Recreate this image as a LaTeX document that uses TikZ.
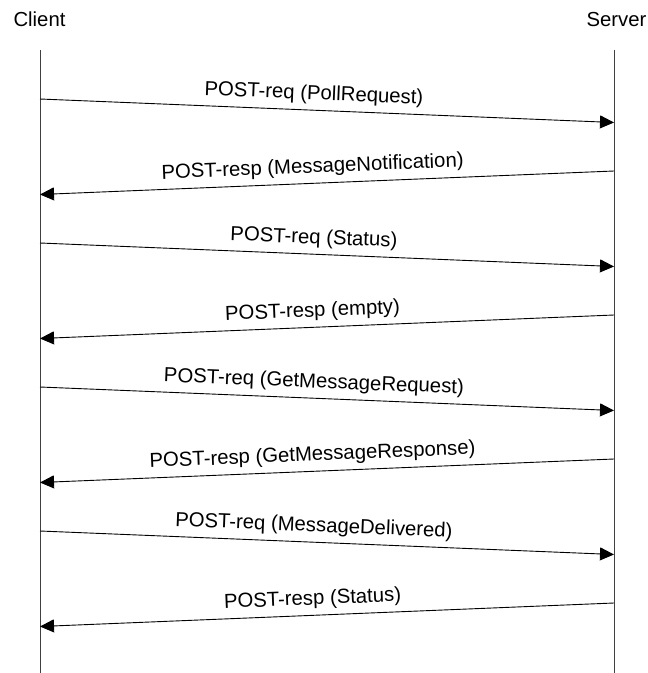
\documentclass[tikz,border=0pt]{standalone}
\usepackage{fontspec}
\setmainfont{Liberation Sans}
\usetikzlibrary{arrows.meta}
\begin{document}
\begin{tikzpicture}[x=1pt,y=-1pt,
  lbl/.style={font=\fontsize{20.3}{24}\selectfont, inner sep=0pt},
  life/.style={line width=0.9pt, draw=black!75},
  msg/.style={line width=0.9pt, -{Triangle[length=14pt,width=13pt]}},
  mlab/.style={lbl, sloped, anchor=base, yshift=10.5pt}]
\useasboundingbox (0,0) rectangle (648,673);
\node[lbl, anchor=base] (client) at (39.5,26.5) {Client};
\node[lbl, anchor=base] (server) at (616.5,26.5) {Server};
\coordinate (ctop) at (40,50);
\coordinate (cbot) at (40,673);
\coordinate (stop) at (614,50);
\coordinate (sbot) at (614,673);
\draw[life] (ctop) -- (cbot);
\draw[life] (stop) -- (sbot);
% message endpoints
\foreach \i in {1,...,8}{
  \pgfmathsetmacro{\ya}{99+72*(\i-1)}
  \pgfmathsetmacro{\yb}{\ya+23.5}
  \ifodd\i
    \coordinate (a\i) at (40,\ya);
    \coordinate (b\i) at (614,\yb);
  \else
    \coordinate (a\i) at (614,\ya);
    \coordinate (b\i) at (40,\yb);
  \fi
}
\draw[msg] (a1) -- node[mlab, pos=0.476] {POST-req (PollRequest)} (b1);
\draw[msg] (a2) -- node[mlab, pos=0.524] {POST-resp (MessageNotification)} (b2);
\draw[msg] (a3) -- node[mlab, pos=0.476] {POST-req (Status)} (b3);
\draw[msg] (a4) -- node[mlab, pos=0.524] {POST-resp (empty)} (b4);
\draw[msg] (a5) -- node[mlab, pos=0.476] {POST-req (GetMessageRequest)} (b5);
\draw[msg] (a6) -- node[mlab, pos=0.524] {POST-resp (GetMessageResponse)} (b6);
\draw[msg] (a7) -- node[mlab, pos=0.476] {POST-req (MessageDelivered)} (b7);
\draw[msg] (a8) -- node[mlab, pos=0.524] {POST-resp (Status)} (b8);
\end{tikzpicture}
\end{document}
